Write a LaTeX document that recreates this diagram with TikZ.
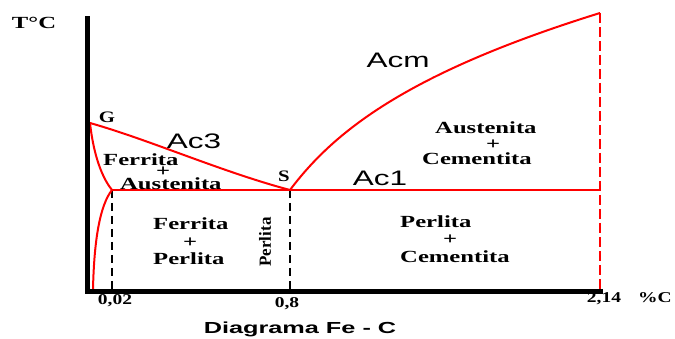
\documentclass[tikz,border=0pt]{standalone}
\usepackage{fontspec}
\setmainfont{Liberation Serif}
\newfontfamily\wideserif[FakeStretch=1.45]{Liberation Serif}
\newfontfamily\numserif[FakeStretch=1.3]{Liberation Serif}
\newfontfamily\widesans[FakeStretch=1.5]{Liberation Sans}
\newfontfamily\capsans[FakeStretch=1.58]{Liberation Sans}
\tikzset{
  phase/.style={anchor=base, inner sep=0pt, font={\fontsize{17}{17}\selectfont\wideserif\bfseries}},
  block/.style={anchor=base west, inner sep=0pt, align=left, font={\fontsize{17}{#1}\selectfont\wideserif\bfseries}},
  numlab/.style={anchor=base, inner sep=0pt, font={\fontsize{15}{15}\selectfont\numserif\bfseries}},
  ptlab/.style={anchor=base, inner sep=0pt, font={\fontsize{16}{16}\selectfont\numserif\bfseries}},
  linelab/.style={anchor=base, inner sep=0pt, font={\fontsize{21}{21}\selectfont\widesans}},
  redline/.style={draw=red, line width=2pt},
  reddash/.style={draw=red, line width=1.8pt, dash pattern=on 10pt off 4pt},
  blackdash/.style={draw=black, line width=1.2pt, dash pattern=on 8pt off 5pt},
  axis/.style={draw=black, line width=5pt}
}
\begin{document}
\begin{tikzpicture}[x=1pt,y=-1pt]
\useasboundingbox (0,0) rectangle (675,339);
% points
\coordinate (ytop) at (87,19);
\coordinate (orig) at (87,292);
\coordinate (xend) at (600,292);
\coordinate (G) at (90,123);
\coordinate (J) at (112,190);
\coordinate (S) at (290,190);
\coordinate (E) at (600,190);
\coordinate (T) at (600,13);
\coordinate (Jb) at (112,290);
\coordinate (Sb) at (290,290);
\coordinate (Tb) at (600,290);
\coordinate (Fb) at (93,290);
% dashed verticals
\draw[blackdash] (J) -- (Jb);
\draw[blackdash] (S) -- (Sb);
\draw[reddash] (T) -- (Tb);
% red phase lines
\draw[redline] (G) .. controls (93,150) and (100,175) .. (J);
\draw[redline] (J) .. controls (100,205) and (94,240) .. (Fb);
\draw[redline] (G) .. controls (150,140) and (222,172) .. (S);
\draw[redline] (J) -- (S) -- (E);
\draw[redline] (S) .. controls (335,130) and (410,72) .. (T);
% axes
\draw[axis, line cap=rect] (ytop) -- (orig) -- (xend);
% labels
\node[phase] (tc) at (34,29) {T°C};
\node[ptlab] (gl) at (107,123) {G};
\node[ptlab] (sl) at (284,182) {S};
\node[linelab] (ac3) at (194,149) {Ac3};
\node[linelab] (acm) at (398,68) {Acm};
\node[linelab] (ac1) at (380,186) {Ac1};
\node[block=11] (fa) at (103,189.5) {Ferrita\\\hspace*{53pt}+\\\hspace*{17pt}Austenita};
\node[block=15.5] (aca) at (422,165) {\hspace*{13pt}Austenita\\\hspace*{64pt}+\\Cementita};
\node[block=17.5] (fp) at (153,265) {Ferrita\\\hspace*{30pt}+\\Perlita};
\node[anchor=center, inner sep=0pt, rotate=90, font={\fontsize{17}{17}\selectfont\bfseries}] (perl) at (265,242) {Perlita};
\node[block=17.5] (pc) at (400,262) {Perlita\\\hspace*{43pt}+\\Cementita};
\node[numlab] (n1) at (115,305) {0,02};
\node[numlab] (n2) at (287,307) {0,8};
\node[numlab] (n3) at (604,302) {2,14};
\node[numlab] (n4) at (655,302) {\%C};
\node[anchor=base, inner sep=0pt, font={\fontsize{16}{16}\selectfont\capsans\bfseries}] (cap) at (300,333) {Diagrama Fe - C};
\end{tikzpicture}
\end{document}
